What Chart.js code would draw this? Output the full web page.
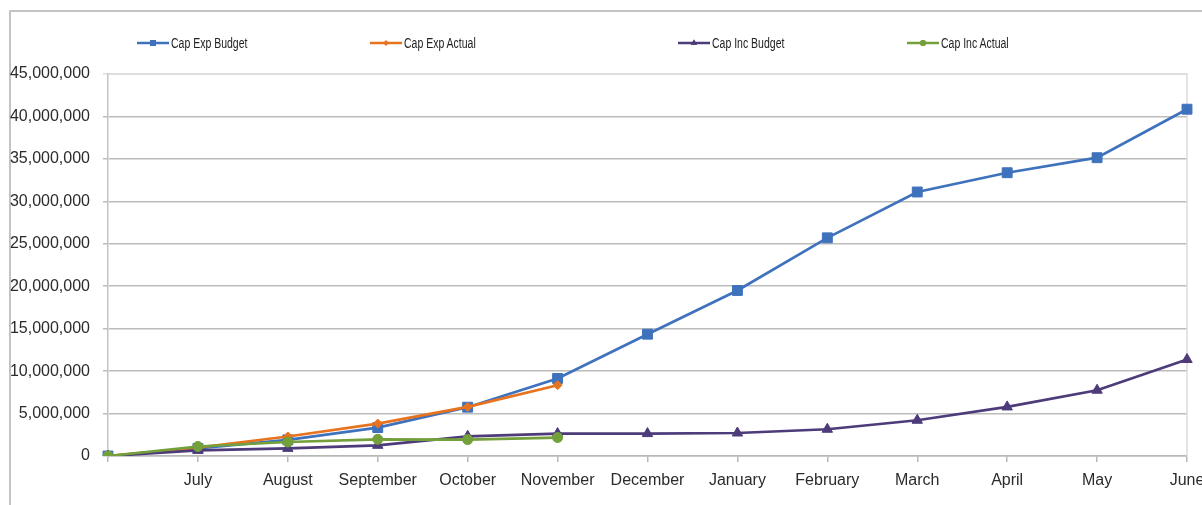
<!DOCTYPE html>
<html lang="en">
<head>
  <meta charset="utf-8">
  <title>Capital Expenditure and Income</title>
  <script src="https://cdn.jsdelivr.net/npm/chart.js@4.4.1/dist/chart.umd.min.js"></script>
  <style>
    * { box-sizing: border-box; }
    html, body { margin: 0; padding: 0; background: #fff; overflow: hidden; }
    body { width: 1202px; height: 505px; position: relative; font-family: 'Liberation Sans', Arial, sans-serif; }
    .frame {
      position: absolute; left: 9px; top: 10px; width: 1300px; height: 600px;
      border-top: 2px solid #c4c4c4; border-left: 2px solid #c4c4c4;
    }
    .chart-wrap { position: absolute; left: 0; top: 0; width: 1202px; height: 505px; }
    .legend { position: absolute; top: 34px; left: 0; width: 1202px; height: 18px; }
    .legend .item {
      position: absolute; display: flex; align-items: center; height: 18px;
      font-family: 'Liberation Sans', Arial, sans-serif;
      font-size: 14px; color: #222; white-space: nowrap;
    }
    .legend .item span { display: inline-block; transform: scaleX(0.75); transform-origin: left center; }
    .legend canvas { margin-right: 2px; }
  </style>
</head>
<body>
  <div class="frame"></div>
  <div class="chart-wrap"><canvas id="chart"></canvas></div>
  <div class="legend" id="legend"></div>
  <script>
    const months = ['', 'July', 'August', 'September', 'October', 'November', 'December',
      'January', 'February', 'March', 'April', 'May', 'June'];

    const capExpBudget = [0, 900000, 1900000, 3350000, 5750000, 9130000, 14350000,
      19500000, 25700000, 31100000, 33370000, 35140000, 40850000];
    const capExpActual = [0, 1000000, 2300000, 3820000, 5780000, 8340000,
      null, null, null, null, null, null, null];
    const capIncBudget = [0, 670000, 900000, 1260000, 2320000, 2640000, 2640000,
      2710000, 3150000, 4210000, 5780000, 7750000, 11370000];
    const capIncActual = [0, 1120000, 1650000, 1970000, 1930000, 2170000,
      null, null, null, null, null, null, null];

    const yTicks = [0, 5000000, 10000000, 15000000, 20000000, 25000000,
      30000000, 35000000, 40000000, 45000000];

    const series = [
      { label: 'Cap Exp Budget', data: capExpBudget, color: '#3f72bd', shape: 'rect', r: 7, order: 4, legendLeft: 137 },
      { label: 'Cap Exp Actual', data: capExpActual, color: '#e8731e', shape: 'rectRot', r: 4.5, order: 3, legendLeft: 370 },
      { label: 'Cap Inc Budget', data: capIncBudget, color: '#4d3b7a', shape: 'triangle', r: 6, order: 2, legendLeft: 678 },
      { label: 'Cap Inc Actual', data: capIncActual, color: '#74a03b', shape: 'circle', r: 5, order: 1, legendLeft: 907 }
    ];

    const axisFont = { family: "'Liberation Sans', Arial, sans-serif", size: 16 };

    // light frame round the plot area, drawn under the series
    const plotBorder = {
      id: 'plotBorder',
      beforeDatasetsDraw(chart) {
        const { ctx, chartArea: a } = chart;
        ctx.save();
        ctx.strokeStyle = '#dcdcdc';
        ctx.lineWidth = 1.5;
        ctx.beginPath();
        ctx.moveTo(a.left, a.top);
        ctx.lineTo(a.right, a.top);
        ctx.lineTo(a.right, a.bottom);
        ctx.stroke();
        ctx.restore();
      }
    };

    new Chart(document.getElementById('chart'), {
      type: 'line',
      data: {
        labels: months,
        datasets: series.map(s => ({
          label: s.label,
          data: s.data,
          borderColor: s.color,
          backgroundColor: s.color,
          borderWidth: 2.7,
          pointStyle: s.shape,
          pointRadius: s.r,
          pointBorderWidth: 1,
          pointBorderColor: s.color,
          pointBackgroundColor: s.color,
          tension: 0,
          spanGaps: false,
          order: s.order
        }))
      },
      options: {
        responsive: true,
        maintainAspectRatio: false,
        animation: false,
        layout: { padding: { top: 74, right: 15, left: 0, bottom: 0 } },
        plugins: { legend: { display: false }, tooltip: { enabled: false } },
        scales: {
          x: {
            offset: false,
            grid: { drawOnChartArea: false, drawTicks: true, tickLength: 6, color: '#b8b8b8', lineWidth: 1.5 },
            border: { color: '#b8b8b8', width: 1.5 },
            ticks: { font: axisFont, color: '#2b2b2b', padding: 9, maxRotation: 0, autoSkip: false },
            afterFit(scale) { scale.height = 49; scale.paddingRight = 0; scale.paddingLeft = 0; }
          },
          y: {
            min: 0,
            max: 45000000,
            afterBuildTicks(scale) { scale.ticks = yTicks.map(v => ({ value: v })); },
            grid: {
              color: ctx => (ctx.tick && ctx.tick.value === 45000000 ? '#dcdcdc' : '#bcbcbc'),
              lineWidth: 1.5,
              tickLength: 5
            },
            border: { color: '#c4c4c4', width: 1.5 },
            ticks: {
              font: axisFont,
              color: '#2b2b2b',
              padding: 13,
              callback: v => Number(v).toLocaleString('en-US')
            },
            afterFit(scale) { scale.width = 108; }
          }
        }
      },
      plugins: [plotBorder]
    });

    // legend row: short line sample with the series marker
    const legend = document.getElementById('legend');
    series.forEach(s => {
      const item = document.createElement('div');
      item.className = 'item';
      item.style.left = s.legendLeft + 'px';
      const c = document.createElement('canvas');
      c.width = 32; c.height = 14;
      const g = c.getContext('2d');
      g.strokeStyle = s.color;
      g.lineWidth = 2.5;
      g.beginPath(); g.moveTo(0, 7); g.lineTo(32, 7); g.stroke();
      g.fillStyle = s.color;
      Chart.helpers.drawPoint(g, { pointStyle: s.shape, radius: s.r * 0.6, rotation: 0, borderWidth: 0 }, 16, 7);
      g.fill();
      item.appendChild(c);
      const t = document.createElement('span');
      t.textContent = s.label;
      item.appendChild(t);
      legend.appendChild(item);
    });
  </script>
</body>
</html>
